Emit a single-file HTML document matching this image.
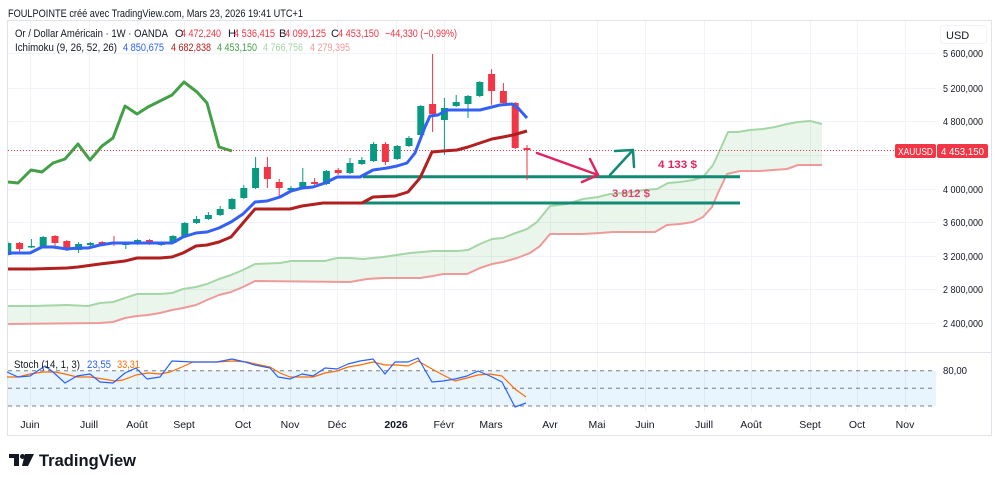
<!DOCTYPE html>
<html><head><meta charset="utf-8"><style>
html,body{margin:0;padding:0;background:#fff;}
svg{display:block;}
text{font-family:"Liberation Sans",sans-serif;}
</style></head><body>
<svg width="1000" height="484" viewBox="0 0 1000 484" xmlns="http://www.w3.org/2000/svg">
<rect width="1000" height="484" fill="#ffffff"/>
<!-- header -->
<text x="8" y="17" font-size="11" fill="#131722" textLength="295" lengthAdjust="spacingAndGlyphs">FOULPOINTE créé avec TradingView.com, Mars 23, 2026 19:41 UTC+1</text>
<!-- frame -->
<rect x="7.5" y="20.5" width="984" height="415" fill="none" stroke="#e0e3eb" stroke-width="1"/>
<!-- grid horizontal main -->
<g stroke="#f0f3fa" stroke-width="1">
<line x1="8" y1="53.5" x2="936" y2="53.5"/>
<line x1="8" y1="88.5" x2="936" y2="88.5"/>
<line x1="8" y1="121.5" x2="936" y2="121.5"/>
<line x1="8" y1="155.5" x2="936" y2="155.5"/>
<line x1="8" y1="189.5" x2="936" y2="189.5"/>
<line x1="8" y1="222.5" x2="936" y2="222.5"/>
<line x1="8" y1="256.5" x2="936" y2="256.5"/>
<line x1="8" y1="289.5" x2="936" y2="289.5"/>
<line x1="8" y1="323.5" x2="936" y2="323.5"/>
</g>
<!-- grid vertical -->
<g stroke="#f0f3fa" stroke-width="1">
<line x1="30.5" y1="21" x2="30.5" y2="412"/>
<line x1="89.5" y1="21" x2="89.5" y2="412"/>
<line x1="137.5" y1="21" x2="137.5" y2="412"/>
<line x1="184.5" y1="21" x2="184.5" y2="412"/>
<line x1="243.5" y1="21" x2="243.5" y2="412"/>
<line x1="290.5" y1="21" x2="290.5" y2="412"/>
<line x1="337.5" y1="21" x2="337.5" y2="412"/>
<line x1="396.5" y1="21" x2="396.5" y2="412"/>
<line x1="444.5" y1="21" x2="444.5" y2="412"/>
<line x1="491.5" y1="21" x2="491.5" y2="412"/>
<line x1="550.5" y1="21" x2="550.5" y2="412"/>
<line x1="597.5" y1="21" x2="597.5" y2="412"/>
<line x1="645.5" y1="21" x2="645.5" y2="412"/>
<line x1="704.5" y1="21" x2="704.5" y2="412"/>
<line x1="751.5" y1="21" x2="751.5" y2="412"/>
<line x1="810.5" y1="21" x2="810.5" y2="412"/>
<line x1="857.5" y1="21" x2="857.5" y2="412"/>
<line x1="905.5" y1="21" x2="905.5" y2="412"/>
</g>
<!-- pane separator -->
<line x1="8" y1="352.5" x2="991" y2="352.5" stroke="#e0e3eb" stroke-width="1"/>

<defs><clipPath id="main"><rect x="8" y="21" width="928" height="331"/></clipPath></defs>
<g clip-path="url(#main)">
<!-- cloud fill -->
<polygon fill="rgba(67,160,71,0.11)" points="7,306 33,306 67,305 88,306 100,303 113,302 125,298 137,294 160,294 172,293 183,289 196,287 207,284 219,279 231,275 243,270 255,264 280,263 291,261 325,261 337,258 350,258 363,259 383,257 397,255 410,253 422,252 433,251 457,251 468,250 480,244 492,239 503,238 513,234 527,229 537,222 550,206 567,204 583,199 598,197 610,194 633,192 643,190 657,189 668,183 680,182 693,180 703,177 713,165 720,150 728,132 738,132 750,130 763,129 775,127 787,124 798,122 810,121 822,124 822,165 798,165 787,169 773,170 760,171 740,171 727,174 718,193 712,207 703,217 693,222 680,224 667,225 655,232 613,232 600,233 583,234 550,234 540,246 530,253 517,258 503,262 492,264 480,268 467,274 443,274 433,276 420,278 383,278 367,279 350,282 255,281 243,287 231,292 219,295 207,300 196,305 183,308 172,310 160,313 148,315 137,316 125,318 113,322 100,323 7,324"/>
<polyline fill="none" stroke="#a5d6a7" stroke-width="2" stroke-linejoin="round" points="7,306 33,306 67,305 88,306 100,303 113,302 125,298 137,294 160,294 172,293 183,289 196,287 207,284 219,279 231,275 243,270 255,264 280,263 291,261 325,261 337,258 350,258 363,259 383,257 397,255 410,253 422,252 433,251 457,251 468,250 480,244 492,239 503,238 513,234 527,229 537,222 550,206 567,204 583,199 598,197 610,194 633,192 643,190 657,189 668,183 680,182 693,180 703,177 713,165 720,150 728,132 738,132 750,130 763,129 775,127 787,124 798,122 810,121 822,124"/>
<polyline fill="none" stroke="#ef9a9a" stroke-width="2" stroke-linejoin="round" points="7,324 100,323 113,322 125,318 137,316 148,315 160,313 172,310 183,308 196,305 207,300 219,295 231,292 243,287 255,281 350,282 367,279 383,278 420,278 433,276 443,274 467,274 480,268 492,264 503,262 517,258 530,253 540,246 550,234 583,234 600,233 613,232 655,232 667,225 680,224 693,222 703,217 712,207 718,193 727,174 740,171 760,171 773,170 787,169 798,165 822,165"/>
<!-- chikou -->
<polyline fill="none" stroke="#43a047" stroke-width="3" stroke-linejoin="round" points="8,182 18,183 31,170 42,172 53,163 65,159 78,144 90,160 102,146 113,138 125,106 137,114 148,107 160,101 172,95 184,82 197,92 207,103 219,147 232,151"/>
<!-- price line -->
<line x1="8" y1="150.5" x2="936" y2="150.5" stroke="#f23645" stroke-width="1" stroke-dasharray="1,2"/>
<!-- horizontal levels -->
<line x1="363" y1="176.7" x2="740" y2="176.7" stroke="#138a74" stroke-width="3"/>
<line x1="325" y1="203" x2="740" y2="203" stroke="#138a74" stroke-width="3"/>
<!-- candles -->
<g stroke-width="1">
<g stroke="#089981" fill="#089981"><line x1="7.8" y1="241" x2="7.8" y2="256"/><rect x="4.3" y="243" width="7" height="12" stroke="none"/></g>
<g stroke="#f23645" fill="#f23645"><line x1="19.6" y1="242" x2="19.6" y2="252"/><rect x="16.1" y="243" width="7" height="6" stroke="none"/></g>
<g stroke="#089981" fill="#089981"><line x1="31.4" y1="239" x2="31.4" y2="248"/><rect x="27.9" y="246" width="7" height="1.5" stroke="none"/></g>
<g stroke="#089981" fill="#089981"><line x1="43.2" y1="236" x2="43.2" y2="248"/><rect x="39.7" y="237" width="7" height="10" stroke="none"/></g>
<g stroke="#f23645" fill="#f23645"><line x1="55" y1="235" x2="55" y2="246"/><rect x="51.5" y="236" width="7" height="7" stroke="none"/></g>
<g stroke="#f23645" fill="#f23645"><line x1="66.8" y1="240" x2="66.8" y2="251"/><rect x="63.3" y="241" width="7" height="9" stroke="none"/></g>
<g stroke="#089981" fill="#089981"><line x1="78.6" y1="242" x2="78.6" y2="253"/><rect x="75.1" y="244" width="7" height="6" stroke="none"/></g>
<g stroke="#089981" fill="#089981"><line x1="90.4" y1="242" x2="90.4" y2="246"/><rect x="86.9" y="243" width="7" height="2" stroke="none"/></g>
<g stroke="#f23645" fill="#f23645"><line x1="102.2" y1="241" x2="102.2" y2="246"/><rect x="98.7" y="242" width="7" height="3" stroke="none"/></g>
<g stroke="#f23645" fill="#f23645"><line x1="114" y1="236" x2="114" y2="246"/><rect x="110.5" y="243" width="7" height="1.5" stroke="none"/></g>
<g stroke="#089981" fill="#089981"><line x1="125.8" y1="242" x2="125.8" y2="249"/><rect x="122.3" y="243" width="7" height="2" stroke="none"/></g>
<g stroke="#089981" fill="#089981"><line x1="137.6" y1="239" x2="137.6" y2="245"/><rect x="134.1" y="240" width="7" height="4" stroke="none"/></g>
<g stroke="#f23645" fill="#f23645"><line x1="149.4" y1="239" x2="149.4" y2="245"/><rect x="145.9" y="240" width="7" height="4" stroke="none"/></g>
<g stroke="#089981" fill="#089981"><line x1="161.2" y1="242" x2="161.2" y2="246"/><rect x="157.7" y="243" width="7" height="2" stroke="none"/></g>
<g stroke="#089981" fill="#089981"><line x1="173" y1="235" x2="173" y2="244"/><rect x="169.5" y="236" width="7" height="7" stroke="none"/></g>
<g stroke="#089981" fill="#089981"><line x1="184.8" y1="222" x2="184.8" y2="237"/><rect x="181.3" y="223" width="7" height="13" stroke="none"/></g>
<g stroke="#089981" fill="#089981"><line x1="196.6" y1="216" x2="196.6" y2="224"/><rect x="193.1" y="219" width="7" height="4" stroke="none"/></g>
<g stroke="#089981" fill="#089981"><line x1="208.4" y1="212" x2="208.4" y2="220"/><rect x="204.9" y="215" width="7" height="4" stroke="none"/></g>
<g stroke="#089981" fill="#089981"><line x1="220.2" y1="206" x2="220.2" y2="216"/><rect x="216.7" y="209" width="7" height="6" stroke="none"/></g>
<g stroke="#089981" fill="#089981"><line x1="232" y1="198" x2="232" y2="210"/><rect x="228.5" y="199" width="7" height="10" stroke="none"/></g>
<g stroke="#089981" fill="#089981"><line x1="243.8" y1="185" x2="243.8" y2="199"/><rect x="240.3" y="188" width="7" height="10" stroke="none"/></g>
<g stroke="#089981" fill="#089981"><line x1="255.6" y1="157" x2="255.6" y2="189"/><rect x="252.1" y="168" width="7" height="20" stroke="none"/></g>
<g stroke="#f23645" fill="#f23645"><line x1="267.4" y1="157" x2="267.4" y2="188"/><rect x="263.9" y="167" width="7" height="12" stroke="none"/></g>
<g stroke="#f23645" fill="#f23645"><line x1="279.2" y1="179" x2="279.2" y2="197"/><rect x="275.7" y="182" width="7" height="6" stroke="none"/></g>
<g stroke="#089981" fill="#089981"><line x1="291" y1="186" x2="291" y2="192"/><rect x="287.5" y="188" width="7" height="2" stroke="none"/></g>
<g stroke="#089981" fill="#089981"><line x1="302.8" y1="168" x2="302.8" y2="189"/><rect x="299.3" y="182" width="7" height="6" stroke="none"/></g>
<g stroke="#f23645" fill="#f23645"><line x1="314.6" y1="178" x2="314.6" y2="188"/><rect x="311.1" y="182" width="7" height="2" stroke="none"/></g>
<g stroke="#089981" fill="#089981"><line x1="326.4" y1="170" x2="326.4" y2="185"/><rect x="322.9" y="171" width="7" height="13" stroke="none"/></g>
<g stroke="#f23645" fill="#f23645"><line x1="338.2" y1="168" x2="338.2" y2="175"/><rect x="334.7" y="170" width="7" height="3" stroke="none"/></g>
<g stroke="#089981" fill="#089981"><line x1="350" y1="158" x2="350" y2="174"/><rect x="346.5" y="163" width="7" height="10" stroke="none"/></g>
<g stroke="#089981" fill="#089981"><line x1="361.8" y1="157" x2="361.8" y2="165"/><rect x="358.3" y="160" width="7" height="4" stroke="none"/></g>
<g stroke="#089981" fill="#089981"><line x1="373.6" y1="142" x2="373.6" y2="162"/><rect x="370.1" y="144" width="7" height="17" stroke="none"/></g>
<g stroke="#f23645" fill="#f23645"><line x1="385.4" y1="142" x2="385.4" y2="165"/><rect x="381.9" y="144" width="7" height="18" stroke="none"/></g>
<g stroke="#089981" fill="#089981"><line x1="397.2" y1="145" x2="397.2" y2="160"/><rect x="393.7" y="146" width="7" height="13" stroke="none"/></g>
<g stroke="#089981" fill="#089981"><line x1="409" y1="136" x2="409" y2="147"/><rect x="405.5" y="138" width="7" height="8" stroke="none"/></g>
<g stroke="#089981" fill="#089981"><line x1="420.8" y1="105" x2="420.8" y2="136"/><rect x="417.3" y="106" width="7" height="29" stroke="none"/></g>
<g stroke="#f23645" fill="#f23645"><line x1="432.6" y1="54" x2="432.6" y2="132"/><rect x="429.1" y="104" width="7" height="10" stroke="none"/></g>
<g stroke="#089981" fill="#089981"><line x1="444.4" y1="98" x2="444.4" y2="155"/><rect x="440.9" y="108" width="7" height="12" stroke="none"/></g>
<g stroke="#089981" fill="#089981"><line x1="456.2" y1="95" x2="456.2" y2="107"/><rect x="452.7" y="102" width="7" height="4" stroke="none"/></g>
<g stroke="#089981" fill="#089981"><line x1="468" y1="95" x2="468" y2="118"/><rect x="464.5" y="96" width="7" height="8" stroke="none"/></g>
<g stroke="#089981" fill="#089981"><line x1="479.8" y1="81" x2="479.8" y2="97"/><rect x="476.3" y="82" width="7" height="14" stroke="none"/></g>
<g stroke="#f23645" fill="#f23645"><line x1="491.6" y1="69" x2="491.6" y2="105"/><rect x="488.1" y="74" width="7" height="17" stroke="none"/></g>
<g stroke="#f23645" fill="#f23645"><line x1="503.4" y1="83" x2="503.4" y2="104"/><rect x="499.9" y="91" width="7" height="12" stroke="none"/></g>
<g stroke="#f23645" fill="#f23645"><line x1="515.2" y1="102" x2="515.2" y2="149"/><rect x="511.7" y="103" width="7" height="45" stroke="none"/></g>
<g stroke="#f23645" fill="#f23645"><line x1="527" y1="145" x2="527" y2="180"/><rect x="523.5" y="148" width="7" height="2" stroke="none"/></g>
</g>
<!-- kijun -->
<polyline fill="none" stroke="#b21f1f" stroke-width="3" stroke-linejoin="round" points="7,269 33,269 67,268 78,267 100,264 125,261 137,258 160,258 172,257 183,253 196,246 207,245 219,242 231,237 243,223 255,209 290,209 302,206 323,203 362,203 373,197 395,196 408,192 420,178 432,152 443,151 457,150 468,147 480,143 492,139 503,137 513,135 527,131"/>
<!-- tenkan -->
<polyline fill="none" stroke="#3461f5" stroke-width="3" stroke-linejoin="round" points="7,253 30,253 42,247 53,247 67,249 78,248 88,248 100,245 113,243 172,243 183,237 196,233 207,232 219,228 231,222 243,214 255,202 267,201 280,197 291,191 302,188 313,187 325,183 337,177 360,177 373,170 387,168 397,166 407,163 415,153 420,140 425,127 430,116 438,115 447,110 480,110 492,107 500,105 512,104 518,108 527,118"/>
<!-- arrows -->
<g fill="none" stroke="#e0245e" stroke-width="2.5" stroke-linecap="round" stroke-linejoin="round">
<line x1="537" y1="153" x2="598" y2="175"/>
<polyline points="590,159 598,175 582,182"/>
</g>
<g fill="none" stroke="#138a74" stroke-width="2.5" stroke-linecap="round" stroke-linejoin="round">
<line x1="610" y1="175" x2="633" y2="150"/>
<polyline points="615,151 633,150 634,167"/>
</g>
<text x="658" y="168" font-size="11" font-weight="bold" fill="#e0245e" textLength="39" lengthAdjust="spacingAndGlyphs">4 133 $</text>
<text x="612" y="197" font-size="11" font-weight="bold" fill="#e0245e" fill-opacity="0.85" textLength="38" lengthAdjust="spacingAndGlyphs">3 812 $</text>
</g>

<!-- legend -->
<g font-size="11">
<text x="15" y="37" fill="#131722" textLength="153" lengthAdjust="spacingAndGlyphs">Or / Dollar Américain · 1W · OANDA</text>
<text x="175" y="37" fill="#131722">O</text>
<text x="181" y="37" fill="#f23645" textLength="40" lengthAdjust="spacingAndGlyphs">4 472,240</text>
<text x="228" y="37" fill="#131722">H</text>
<text x="234" y="37" fill="#f23645" textLength="41" lengthAdjust="spacingAndGlyphs">4 536,415</text>
<text x="279" y="37" fill="#131722">B</text>
<text x="285" y="37" fill="#f23645" textLength="41" lengthAdjust="spacingAndGlyphs">4 099,125</text>
<text x="331" y="37" fill="#131722">C</text>
<text x="338" y="37" fill="#f23645" textLength="41" lengthAdjust="spacingAndGlyphs">4 453,150</text>
<text x="385" y="37" fill="#f23645" textLength="72" lengthAdjust="spacingAndGlyphs">−44,330 (−0,99%)</text>
<text x="15" y="51" fill="#131722" textLength="102" lengthAdjust="spacingAndGlyphs">Ichimoku (9, 26, 52, 26)</text>
<text x="123" y="51" fill="#2962ff" textLength="41" lengthAdjust="spacingAndGlyphs">4 850,675</text>
<text x="171" y="51" fill="#b71c1c" textLength="40" lengthAdjust="spacingAndGlyphs">4 682,838</text>
<text x="217" y="51" fill="#43a047" textLength="40" lengthAdjust="spacingAndGlyphs">4 453,150</text>
<text x="263" y="51" fill="#a5d6a7" textLength="40" lengthAdjust="spacingAndGlyphs">4 766,756</text>
<text x="310" y="51" fill="#ef9a9a" textLength="40" lengthAdjust="spacingAndGlyphs">4 279,395</text>
</g>

<!-- price axis -->
<rect x="940.5" y="25.5" width="46" height="18" rx="3" fill="#fff" stroke="#f0f3fa"/>
<text x="946" y="39" font-size="11" fill="#131722">USD</text>
<g font-size="10.5" fill="#131722">
<text x="943" y="57" textLength="40" lengthAdjust="spacingAndGlyphs">5 600,000</text>
<text x="943" y="92" textLength="40" lengthAdjust="spacingAndGlyphs">5 200,000</text>
<text x="943" y="125" textLength="40" lengthAdjust="spacingAndGlyphs">4 800,000</text>
<text x="943" y="193" textLength="40" lengthAdjust="spacingAndGlyphs">4 000,000</text>
<text x="943" y="226" textLength="40" lengthAdjust="spacingAndGlyphs">3 600,000</text>
<text x="943" y="260" textLength="40" lengthAdjust="spacingAndGlyphs">3 200,000</text>
<text x="943" y="293" textLength="40" lengthAdjust="spacingAndGlyphs">2 800,000</text>
<text x="943" y="327" textLength="40" lengthAdjust="spacingAndGlyphs">2 400,000</text>
<text x="943" y="374" textLength="24" lengthAdjust="spacingAndGlyphs">80,00</text>
</g>
<rect x="895" y="144" width="41" height="14" rx="2" fill="#f23645"/>
<rect x="937" y="144" width="51" height="14" rx="2" fill="#f23645"/>
<text x="898" y="155" font-size="10.5" fill="#fff" textLength="35" lengthAdjust="spacingAndGlyphs">XAUUSD</text>
<text x="941" y="155" font-size="10.5" fill="#fff" textLength="43" lengthAdjust="spacingAndGlyphs">4 453,150</text>

<!-- stochastic pane -->
<rect x="8" y="370.7" width="928" height="35.3" fill="rgba(33,150,243,0.1)"/>
<g stroke="#787b86" stroke-width="1" stroke-dasharray="4,4">
<line x1="8" y1="370.7" x2="936" y2="370.7"/>
<line x1="8" y1="388.3" x2="936" y2="388.3"/>
<line x1="8" y1="406" x2="936" y2="406"/>
</g>
<polyline fill="none" stroke="#ff6d00" stroke-width="1.2" stroke-linejoin="round" points="7,377 18,377 30,374 43,372 55,372 65,374 77,377 90,377 103,379 115,381 123,380 136,375 148,373 160,374 170,372 182,367 193,362 217,362 233,361 247,362 260,365 270,367 280,373 290,377 302,377 313,377 325,373 337,371 348,367 360,365 373,362 385,365 397,365 408,366 418,361 432,369 443,375 455,381 467,378 478,375 490,374 502,376 515,389 526,397"/>
<polyline fill="none" stroke="#2962ff" stroke-width="1.2" stroke-linejoin="round" points="7,372 18,377 30,376 45,366 53,372 65,383 77,376 90,374 100,382 113,383 125,373 136,368 147,379 160,377 172,361 193,362 217,362 232,359 245,362 255,365 270,368 278,377 290,379 302,374 313,376 325,368 337,369 348,364 360,361 373,359 385,374 395,362 408,362 418,358 432,382 443,381 455,379 467,376 478,371 490,376 502,382 515,407 526,403"/>
<g font-size="11">
<text x="14" y="368" fill="#131722" textLength="66" lengthAdjust="spacingAndGlyphs">Stoch (14, 1, 3)</text>
<text x="87" y="368" fill="#2962ff" textLength="24" lengthAdjust="spacingAndGlyphs">23,55</text>
<text x="117" y="368" fill="#ff6d00" textLength="23" lengthAdjust="spacingAndGlyphs">33,31</text>
</g>

<!-- time axis -->
<g font-size="10.5" fill="#131722" text-anchor="middle">
<text x="30" y="428">Juin</text>
<text x="89" y="428">Juill</text>
<text x="137" y="428">Août</text>
<text x="184" y="428">Sept</text>
<text x="243" y="428">Oct</text>
<text x="290" y="428">Nov</text>
<text x="337" y="428">Déc</text>
<text x="396" y="428" font-weight="bold">2026</text>
<text x="444" y="428">Févr</text>
<text x="491" y="428">Mars</text>
<text x="550" y="428">Avr</text>
<text x="597" y="428">Mai</text>
<text x="645" y="428">Juin</text>
<text x="704" y="428">Juill</text>
<text x="751" y="428">Août</text>
<text x="810" y="428">Sept</text>
<text x="857" y="428">Oct</text>
<text x="905" y="428">Nov</text>
</g>

<!-- logo -->
<g fill="#131722">
<rect x="9" y="454" width="10" height="4"/>
<rect x="14" y="454" width="5" height="12"/>
<circle cx="22.5" cy="456.5" r="2.5"/>
<polygon points="25,454 34,454 28,466 22,466"/>
</g>
<text x="39" y="466" font-size="17" font-weight="bold" fill="#131722" textLength="97" lengthAdjust="spacingAndGlyphs">TradingView</text>
</svg>
</body></html>
